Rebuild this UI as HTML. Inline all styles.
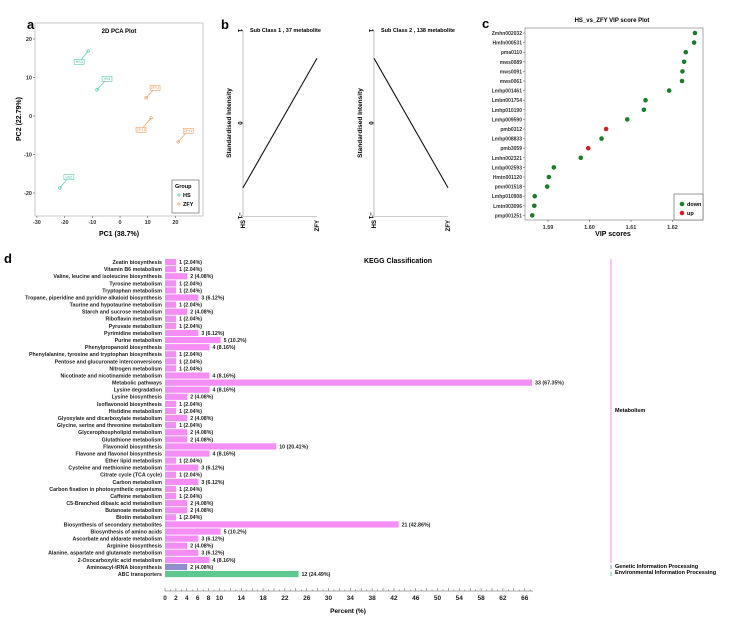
<!DOCTYPE html>
<html><head><meta charset="utf-8"><style>
body{margin:0;background:#fff}
svg{display:block;font-family:"Liberation Sans",sans-serif}
</style></head><body>
<svg id="fig" width="739" height="618" viewBox="0 0 739 618" xmlns="http://www.w3.org/2000/svg">
<text x="27" y="29" font-size="13" font-weight="bold">a</text>
<text x="221" y="29" font-size="13" font-weight="bold">b</text>
<text x="482" y="28" font-size="13" font-weight="bold">c</text>
<text x="4" y="263" font-size="13" font-weight="bold">d</text>
<g id="pca"></g>
<g id="trend"></g>
<g id="vip"></g>
<g id="kegg"></g>
</svg>
<script>
// ---- PCA data ----
const pcaLabels=["HS3","HS1","HS2","ZFY2","ZFY3","ZFY1"];
const pcaGroup=["HS","HS","HS","ZFY","ZFY","ZFY"];
const pcaX=[-11.5,-8.3,-21.7,9.4,11.2,21];
const pcaY=[16.9,6.8,-18.7,4.7,-0.5,-6.7];
const pcaXTicks=[-30,-20,-10,0,10,20];
const pcaYTicks=[20,10,0,-10,-20];
// ---- trend data ----
const trendTitles=["Sub Class  1  , 37 metabolite","Sub Class  2  , 138 metabolite"];
const trendHS=[-0.7,0.7];
const trendZFY=[0.7,-0.7];
// ---- VIP data ----
const vipNames=["Zmhn002032","Hmfn000531","pma0110","mws0089","mws0091","mws0061","Lmhp001461","Lmbn001754","Lmhp010190","Lmhp009590","pmb0312","Lmhp008833","pmb3059","Lmhn002321","Lmbp002593","Hmtn001120","pmn001518","Lmhp010908","Lmtn003096","pmp001251"];
const vipScores=[1.6254,1.6252,1.6232,1.6228,1.6224,1.6223,1.6192,1.6135,1.6131,1.6091,1.6040,1.6029,1.5997,1.5979,1.5914,1.5902,1.5898,1.5868,1.5867,1.5862];
const vipType=["down","down","down","down","down","down","down","down","down","down","up","down","up","down","down","down","down","down","down","down"];
const vipTicks=[1.59,1.60,1.61,1.62];
// ---- KEGG data ----
const keggNames=["Zeatin biosynthesis","Vitamin B6 metabolism","Valine, leucine and isoleucine biosynthesis","Tyrosine metabolism","Tryptophan metabolism","Tropane, piperidine and pyridine alkaloid biosynthesis","Taurine and hypotaurine metabolism","Starch and sucrose metabolism","Riboflavin metabolism","Pyruvate metabolism","Pyrimidine metabolism","Purine metabolism","Phenylpropanoid biosynthesis","Phenylalanine, tyrosine and tryptophan biosynthesis","Pentose and glucuronate interconversions","Nitrogen metabolism","Nicotinate and nicotinamide metabolism","Metabolic pathways","Lysine degradation","Lysine biosynthesis","Isoflavonoid biosynthesis","Histidine metabolism","Glyoxylate and dicarboxylate metabolism","Glycine, serine and threonine metabolism","Glycerophospholipid metabolism","Glutathione metabolism","Flavonoid biosynthesis","Flavone and flavonol biosynthesis","Ether lipid metabolism","Cysteine and methionine metabolism","Citrate cycle (TCA cycle)","Carbon metabolism","Carbon fixation in photosynthetic organisms","Caffeine metabolism","C5-Branched dibasic acid metabolism","Butanoate metabolism","Biotin metabolism","Biosynthesis of secondary metabolites","Biosynthesis of amino acids","Ascorbate and aldarate metabolism","Arginine biosynthesis","Alanine, aspartate and glutamate metabolism","2-Oxocarboxylic acid metabolism","Aminoacyl-tRNA biosynthesis","ABC transporters"];
const keggCounts=[1,1,2,1,1,3,1,2,1,1,3,5,4,1,1,1,4,33,4,2,1,1,2,1,2,2,10,4,1,3,1,3,1,1,2,2,1,21,5,3,2,3,4,2,12];
const keggPct=["2.04","2.04","4.08","2.04","2.04","6.12","2.04","4.08","2.04","2.04","6.12","10.2","8.16","2.04","2.04","2.04","8.16","67.35","8.16","4.08","2.04","2.04","4.08","2.04","4.08","4.08","20.41","8.16","2.04","6.12","2.04","6.12","2.04","2.04","4.08","4.08","2.04","42.86","10.2","6.12","4.08","6.12","8.16","4.08","24.49"];
const keggClass=["M","M","M","M","M","M","M","M","M","M","M","M","M","M","M","M","M","M","M","M","M","M","M","M","M","M","M","M","M","M","M","M","M","M","M","M","M","M","M","M","M","M","M","G","E"];
const keggTicks=[0,2,4,6,8,10,14,18,22,26,30,34,38,42,46,50,54,58,62,66];
const keggTotal=49;

const NS="http://www.w3.org/2000/svg";
function mk(parent,tag,attrs,txt){const e=document.createElementNS(NS,tag);for(const k in attrs)e.setAttribute(k,attrs[k]);if(txt!==undefined)e.textContent=txt;parent.appendChild(e);return e;}

// ---- PCA ----
(function(){
const g=document.getElementById('pca');
const sx=v=>120+v*2.77, sy=v=>116-v*3.85;
const fr=mk(g,'rect',{x:35,y:23,width:168,height:193,fill:'#fff',stroke:'#bbb','stroke-width':0.8});

const t=mk(g,'text',{x:119,y:33,'font-size':6,'font-weight':'bold','text-anchor':'middle'},'2D PCA Plot');

pcaXTicks.forEach(v=>{mk(g,'line',{x1:sx(v),x2:sx(v),y1:216,y2:218,stroke:'#555','stroke-width':0.6});
 const e=mk(g,'text',{x:sx(v),y:224,'font-size':5.5,'font-weight':'bold','text-anchor':'middle',fill:'#333'},v);
 });
pcaYTicks.forEach(v=>{mk(g,'line',{x1:33,x2:35,y1:sy(v),y2:sy(v),stroke:'#555','stroke-width':0.6});
 const e=mk(g,'text',{x:32,y:sy(v)+2,'font-size':5.5,'font-weight':'bold','text-anchor':'end',fill:'#333'},v);
 });
const xl=mk(g,'text',{x:119,y:236,'font-size':7,'font-weight':'bold','text-anchor':'middle'},'PC1 (38.7%)');

const yl=mk(g,'text',{x:0,y:0,'font-size':7,'font-weight':'bold','text-anchor':'middle',transform:'translate(21,119) rotate(-90)'},'PC2 (22.79%)');

const off=[[-9,11],[10,-11],[9,-11],[9,-10],[-10,12],[10,-11]];
pcaX.forEach((v,i)=>{const c=pcaGroup[i]=='HS'?'#3dbf9f':'#e8904a';
 const px=sx(v),py=sy(pcaY[i]);const lx=px+off[i][0],ly=py+off[i][1];
 mk(g,'line',{x1:px,y1:py,x2:lx,y2:ly,stroke:c,'stroke-width':0.6});
 const p=mk(g,'circle',{cx:px,cy:py,r:1.3,fill:'none',stroke:c,'stroke-width':0.6});
 
 mk(g,'rect',{x:lx-5,y:ly-2.5,width:10,height:5,fill:'#fff',stroke:c,'stroke-width':0.5});
 const e=mk(g,'text',{x:lx,y:ly+1.3,'font-size':3.5,'text-anchor':'middle',fill:c},pcaLabels[i]);
 });
const lg=mk(g,'g',{});
mk(lg,'rect',{x:172,y:180,width:27,height:33,fill:'#fff',stroke:'#555','stroke-width':0.6});
mk(lg,'text',{x:175,y:188,'font-size':5.5,'font-weight':'bold'},'Group');
mk(lg,'circle',{cx:179,cy:195,r:1.1,fill:'none',stroke:'#3dbf9f','stroke-width':0.6});
mk(lg,'text',{x:183,y:197,'font-size':5.5,'font-weight':'bold'},'HS');
mk(lg,'circle',{cx:179,cy:204,r:1.1,fill:'none',stroke:'#e8904a','stroke-width':0.6});
mk(lg,'text',{x:183,y:206,'font-size':5.5,'font-weight':'bold'},'ZFY');
})();

// ---- Trend ----
(function(){
const g=document.getElementById('trend');
const axX=[243,374],zX=[317,448];
const sy=v=>123-v*92.5;
for(let k=0;k<2;k++){
 const ax=axX[k];
 mk(g,'line',{x1:ax,x2:ax,y1:sy(1),y2:sy(-1),stroke:'#999','stroke-width':0.6});
 mk(g,'line',{x1:ax,x2:zX[k],y1:sy(-1)+1,y2:sy(-1)+1,stroke:'#999','stroke-width':0.6});
 [1,0,-1].forEach(v=>{mk(g,'line',{x1:ax-2,x2:ax,y1:sy(v),y2:sy(v),stroke:'#999','stroke-width':0.6});
  const e=mk(g,'text',{x:0,y:0,'font-size':6,'font-weight':'bold','text-anchor':'middle',transform:`translate(${ax-5},${sy(v)}) rotate(90)`},v==-1?'−1':v);
  });
 const tt=mk(g,'text',{x:ax+7,y:32,'font-size':5.5,'font-weight':'bold'},trendTitles[k]);
 
 const yl=mk(g,'text',{x:0,y:0,'font-size':6.5,'font-weight':'bold','text-anchor':'middle',transform:`translate(${ax-12},${123}) rotate(-90)`},'Standardised Intensity');
 
 [['HS',ax],['ZFY',zX[k]]].forEach(([s,x])=>{const e=mk(g,'text',{x:0,y:0,'font-size':6,'font-weight':'bold','text-anchor':'end',transform:`translate(${x+2},${220}) rotate(-90)`},s);
  });
 const l=mk(g,'line',{x1:ax,y1:sy(trendHS[k]),x2:zX[k],y2:sy(trendZFY[k]),stroke:'#111','stroke-width':1.1});
 
}})();

// ---- VIP ----
(function(){
const g=document.getElementById('vip');
const sx=v=>548+(v-1.59)*4150, sy=i=>33+i*9.6;
mk(g,'rect',{x:525,y:28,width:178,height:192,fill:'none',stroke:'#888','stroke-width':0.7});
const t=mk(g,'text',{x:612,y:22,'font-size':6,'font-weight':'bold','text-anchor':'middle'},'HS_vs_ZFY VIP score Plot');

vipTicks.forEach(v=>{mk(g,'line',{x1:sx(v),x2:sx(v),y1:220,y2:222,stroke:'#555','stroke-width':0.6});
 const e=mk(g,'text',{x:sx(v),y:229,'font-size':5.5,'font-weight':'bold','text-anchor':'middle',fill:'#333'},v.toFixed(2));
 });
const xl=mk(g,'text',{x:613,y:236,'font-size':7,'font-weight':'bold','text-anchor':'middle'},'VIP scores');

vipNames.forEach((n,i)=>{const e=mk(g,'text',{x:522,y:sy(i)+2,'font-size':5,'font-weight':'bold','text-anchor':'end',fill:'#333'},n);
 
 mk(g,'line',{x1:523,x2:525,y1:sy(i),y2:sy(i),stroke:'#555','stroke-width':0.5});
 const d=mk(g,'circle',{cx:sx(vipScores[i]),cy:sy(i),r:2.3,fill:vipType[i]=='up'?'#d0202a':'#1e7b2e'});
 });
const lg=mk(g,'g',{});
mk(lg,'rect',{x:674,y:194,width:29,height:26,fill:'#fff',stroke:'#555','stroke-width':0.6});
mk(lg,'circle',{cx:682,cy:204,r:2.3,fill:'#1e7b2e'});mk(lg,'text',{x:687,y:206,'font-size':5.5,'font-weight':'bold'},'down');
mk(lg,'circle',{cx:682,cy:213,r:2.3,fill:'#d0202a'});mk(lg,'text',{x:687,y:215,'font-size':5.5,'font-weight':'bold'},'up');
})();

// ---- KEGG ----
(function(){
const g=document.getElementById('kegg');
const sx=v=>165+v*5.45, sy=i=>262+i*7.09;
const cols={M:'#f48ef4',G:'#8f8fd0',E:'#5ec890'};
const t=mk(g,'text',{x:398,y:263,'font-size':7,'font-weight':'bold','text-anchor':'middle'},'KEGG Classification');

keggNames.forEach((n,i)=>{const y=sy(i);const pct=keggCounts[i]/keggTotal*100;
 const lab=mk(g,'text',{x:162,y:y+2,'font-size':5.3,'font-weight':'bold','text-anchor':'end',fill:'#222'},n);
 
 const b=mk(g,'rect',{x:165,y:y-3,width:pct*5.45,height:6.2,fill:cols[keggClass[i]]});
 
 const v=mk(g,'text',{x:sx(pct)+3,y:y+2,'font-size':5.3,'font-weight':'bold',fill:'#222'},keggCounts[i]+' ('+keggPct[i]+'%)');
 });
mk(g,'line',{x1:165,x2:533,y1:591,y2:591,stroke:'#555','stroke-width':0.6});
for(let v=0;v<=67;v++){mk(g,'line',{x1:sx(v),x2:sx(v),y1:591,y2:v%2==0?588:589.5,stroke:'#555','stroke-width':0.5});}
keggTicks.forEach(v=>{const e=mk(g,'text',{x:sx(v),y:600,'font-size':6.5,'font-weight':'bold','text-anchor':'middle',fill:'#222'},v);
 });
const xl=mk(g,'text',{x:348,y:613,'font-size':6.5,'font-weight':'bold','text-anchor':'middle'},'Percent (%)');

mk(g,'line',{x1:611,x2:611,y1:sy(0)-3,y2:sy(42)+3,stroke:'#f48ef4','stroke-width':1});
mk(g,'line',{x1:611,x2:611,y1:sy(43)-2,y2:sy(43)+2,stroke:'#8f8fd0','stroke-width':1});
mk(g,'line',{x1:611,x2:611,y1:sy(44)-2,y2:sy(44)+2,stroke:'#5ec890','stroke-width':1});
const c1=mk(g,'text',{x:615,y:412,'font-size':5.5,'font-weight':'bold'},'Metabolism');

const c2=mk(g,'text',{x:615,y:568,'font-size':5.5,'font-weight':'bold'},'Genetic Information Processing');

const c3=mk(g,'text',{x:615,y:574,'font-size':5.5,'font-weight':'bold'},'Environmental Information Processing');

})();
</script>
</body></html>
